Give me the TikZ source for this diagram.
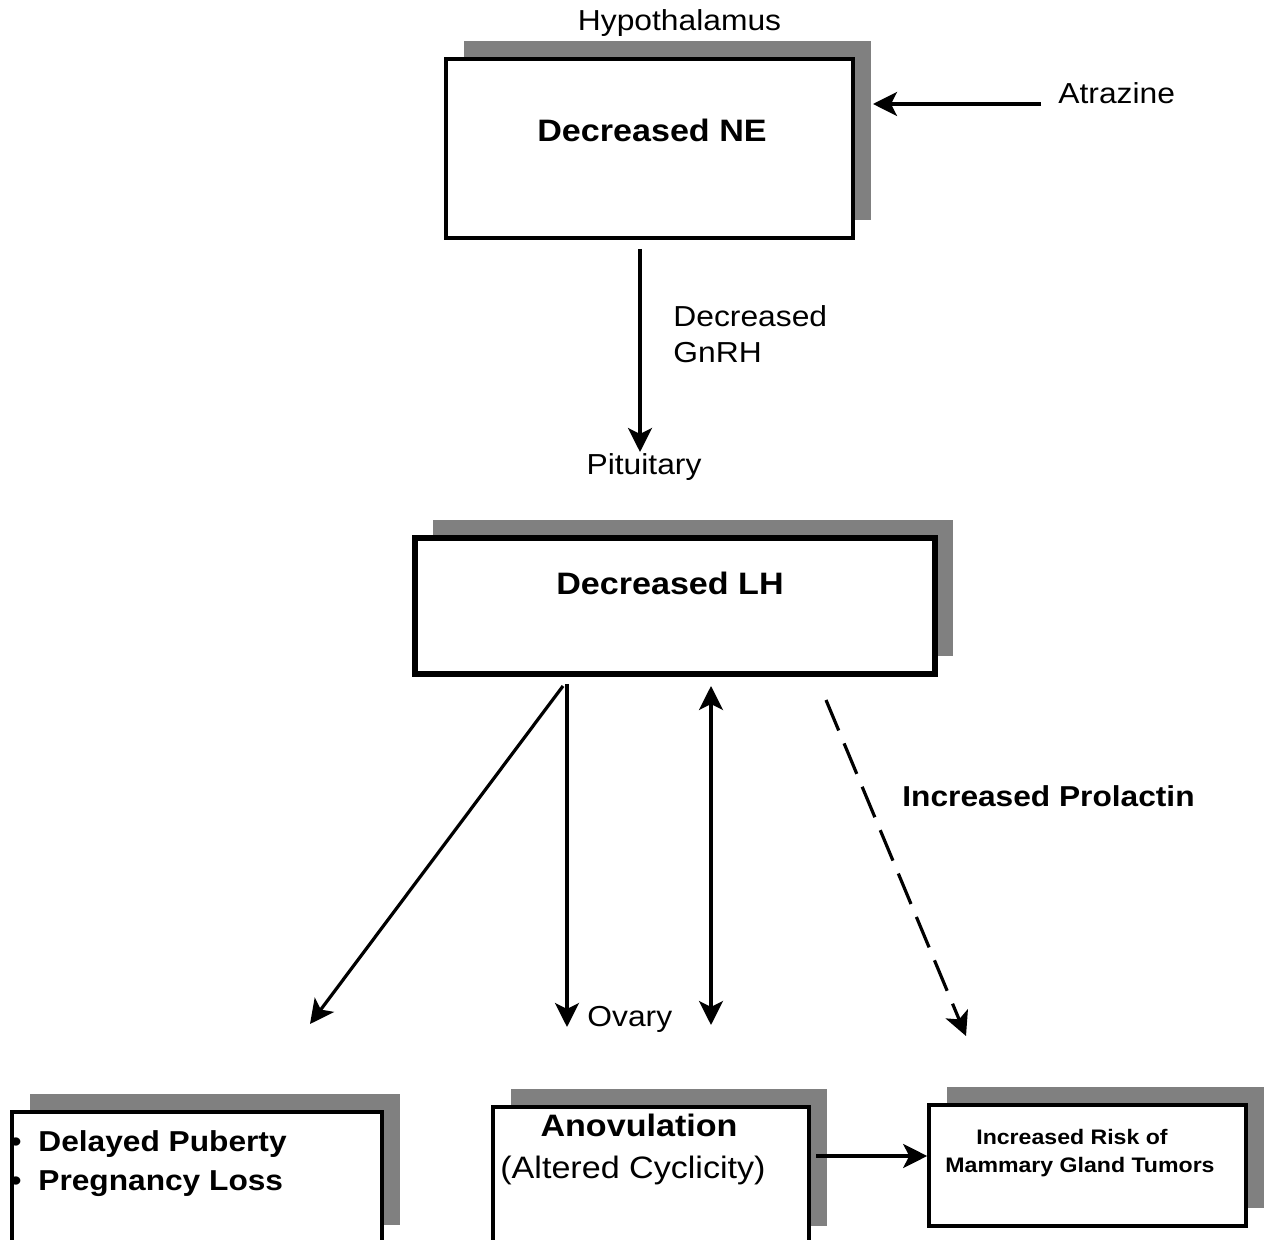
\documentclass[tikz,border=0pt]{standalone}
\usepackage{fontspec}
\setmainfont{Liberation Sans}[FakeStretch=1.1]
\usetikzlibrary{arrows.meta,shadows}
\definecolor{shadowgray}{HTML}{808080}
\newcommand\fReg{\fontsize{14.45pt}{17pt}\selectfont}
\newcommand\fBig{\fontsize{15.5pt}{18pt}\selectfont}
\newcommand\fMed{\fontsize{14.4pt}{17pt}\selectfont}
\newcommand\fSm{\fontsize{10.5pt}{13pt}\selectfont}
\begin{document}
\begin{tikzpicture}[x=0.5pt,y=-0.5pt,
  shbox/.style={draw=black, fill=white, line width=#1, inner sep=0pt,
    general shadow={fill=shadowgray, shadow xshift=9pt, shadow yshift=9pt}},
  shbox/.default=2pt,
  lbl/.style={inner sep=0pt, anchor=base},
  arr/.style={line width=1.6pt, -{Stealth[length=12pt,width=12pt,inset=3pt]}},
  darr/.style={line width=1.6pt, {Stealth[length=12pt,width=12pt,inset=3pt]}-{Stealth[length=12pt,width=12pt,inset=3pt]}},
  dash arr/.style={arr, dash pattern=on 16.5pt off 7pt}
]
\useasboundingbox (0,0) rectangle (1270,1240);
\clip (0,0) rectangle (1270,1240);

% boxes
\node[shbox=2pt, minimum width=203.5pt, minimum height=89.5pt] (hbox) at (649.5,148.5) {};
\node[shbox=2.6pt, minimum width=260pt, minimum height=68pt] (pbox) at (675,606) {};
\node[shbox=2pt, minimum width=185pt, minimum height=65.5pt] (lbox) at (197,1177.5) {};
\node[shbox=2pt, minimum width=158pt, minimum height=68.5pt] (mbox) at (651,1175.5) {};
\node[shbox=1.8pt, minimum width=158.5pt, minimum height=60.5pt] (rbox) at (1087.5,1165.5) {};

% labels
\node[lbl, font=\fReg] (hyp) at (679.5,31) {Hypothalamus};
\node[lbl, font=\fBig\bfseries] (ne) at (652,142) {Decreased NE};
\node[lbl, font=\fReg, anchor=base west] (atz) at (1058,104) {Atrazine};
\node[lbl, font=\fReg, anchor=base west] (gn1) at (673,327) {Decreased};
\node[lbl, font=\fReg, anchor=base west] (gn2) at (673,363) {GnRH};
\node[lbl, font=\fReg] (pit) at (644,475) {Pituitary};
\node[lbl, font=\fBig\bfseries] (lh) at (670,595) {Decreased LH};
\node[lbl, font=\fReg, anchor=base west] (ova) at (587,1026) {Ovary};
\node[lbl, font=\fMed\bfseries, anchor=base west] (prl) at (902,806) {Increased Prolactin};
\node[lbl, font=\fMed\bfseries, anchor=base west] (dp) at (38,1151) {\llap{•\hspace{8.5pt}}Delayed Puberty};
\node[lbl, font=\fMed\bfseries, anchor=base west] (pl) at (38,1190) {\llap{•\hspace{8.5pt}}Pregnancy Loss};
\node[lbl, font=\fBig\bfseries] (ano) at (639,1136) {Anovulation};
\node[lbl, font=\fBig] (alt) at (633,1178) {(Altered Cyclicity)};
\node[lbl, font=\fSm\bfseries] (rk1) at (1072,1144) {Increased Risk of};
\node[lbl, font=\fSm\bfseries] (rk2) at (1080,1172) {Mammary Gland Tumors};

% connectors
\draw[arr, shorten >=9pt] ([xshift=-8.5pt]atz.base west) -- (atz.base west -| hbox.east);
\coordinate (g1) at (640,249);
\coordinate (g2) at (640,452);
\draw[arr] (g1) -- (g2);

\coordinate (d1s) at (563,686);
\coordinate (d1e) at (310,1024);
\coordinate (d2s) at (567,684);
\coordinate (d2e) at (567,1027);
\coordinate (d3s) at (711,686);
\coordinate (d3e) at (711,1025);
\coordinate (d4s) at (826,700);
\coordinate (d4e) at (966,1036);
\draw[arr] (d1s) -- (d1e);
\draw[arr] (d2s) -- (d2e);
\draw[darr] (d3s) -- (d3e);
\draw[dash arr] (d4s) -- (d4e);

\coordinate (am) at (816,1156);
\draw[arr] (am) -- (am -| rbox.west);
\end{tikzpicture}
\end{document}
